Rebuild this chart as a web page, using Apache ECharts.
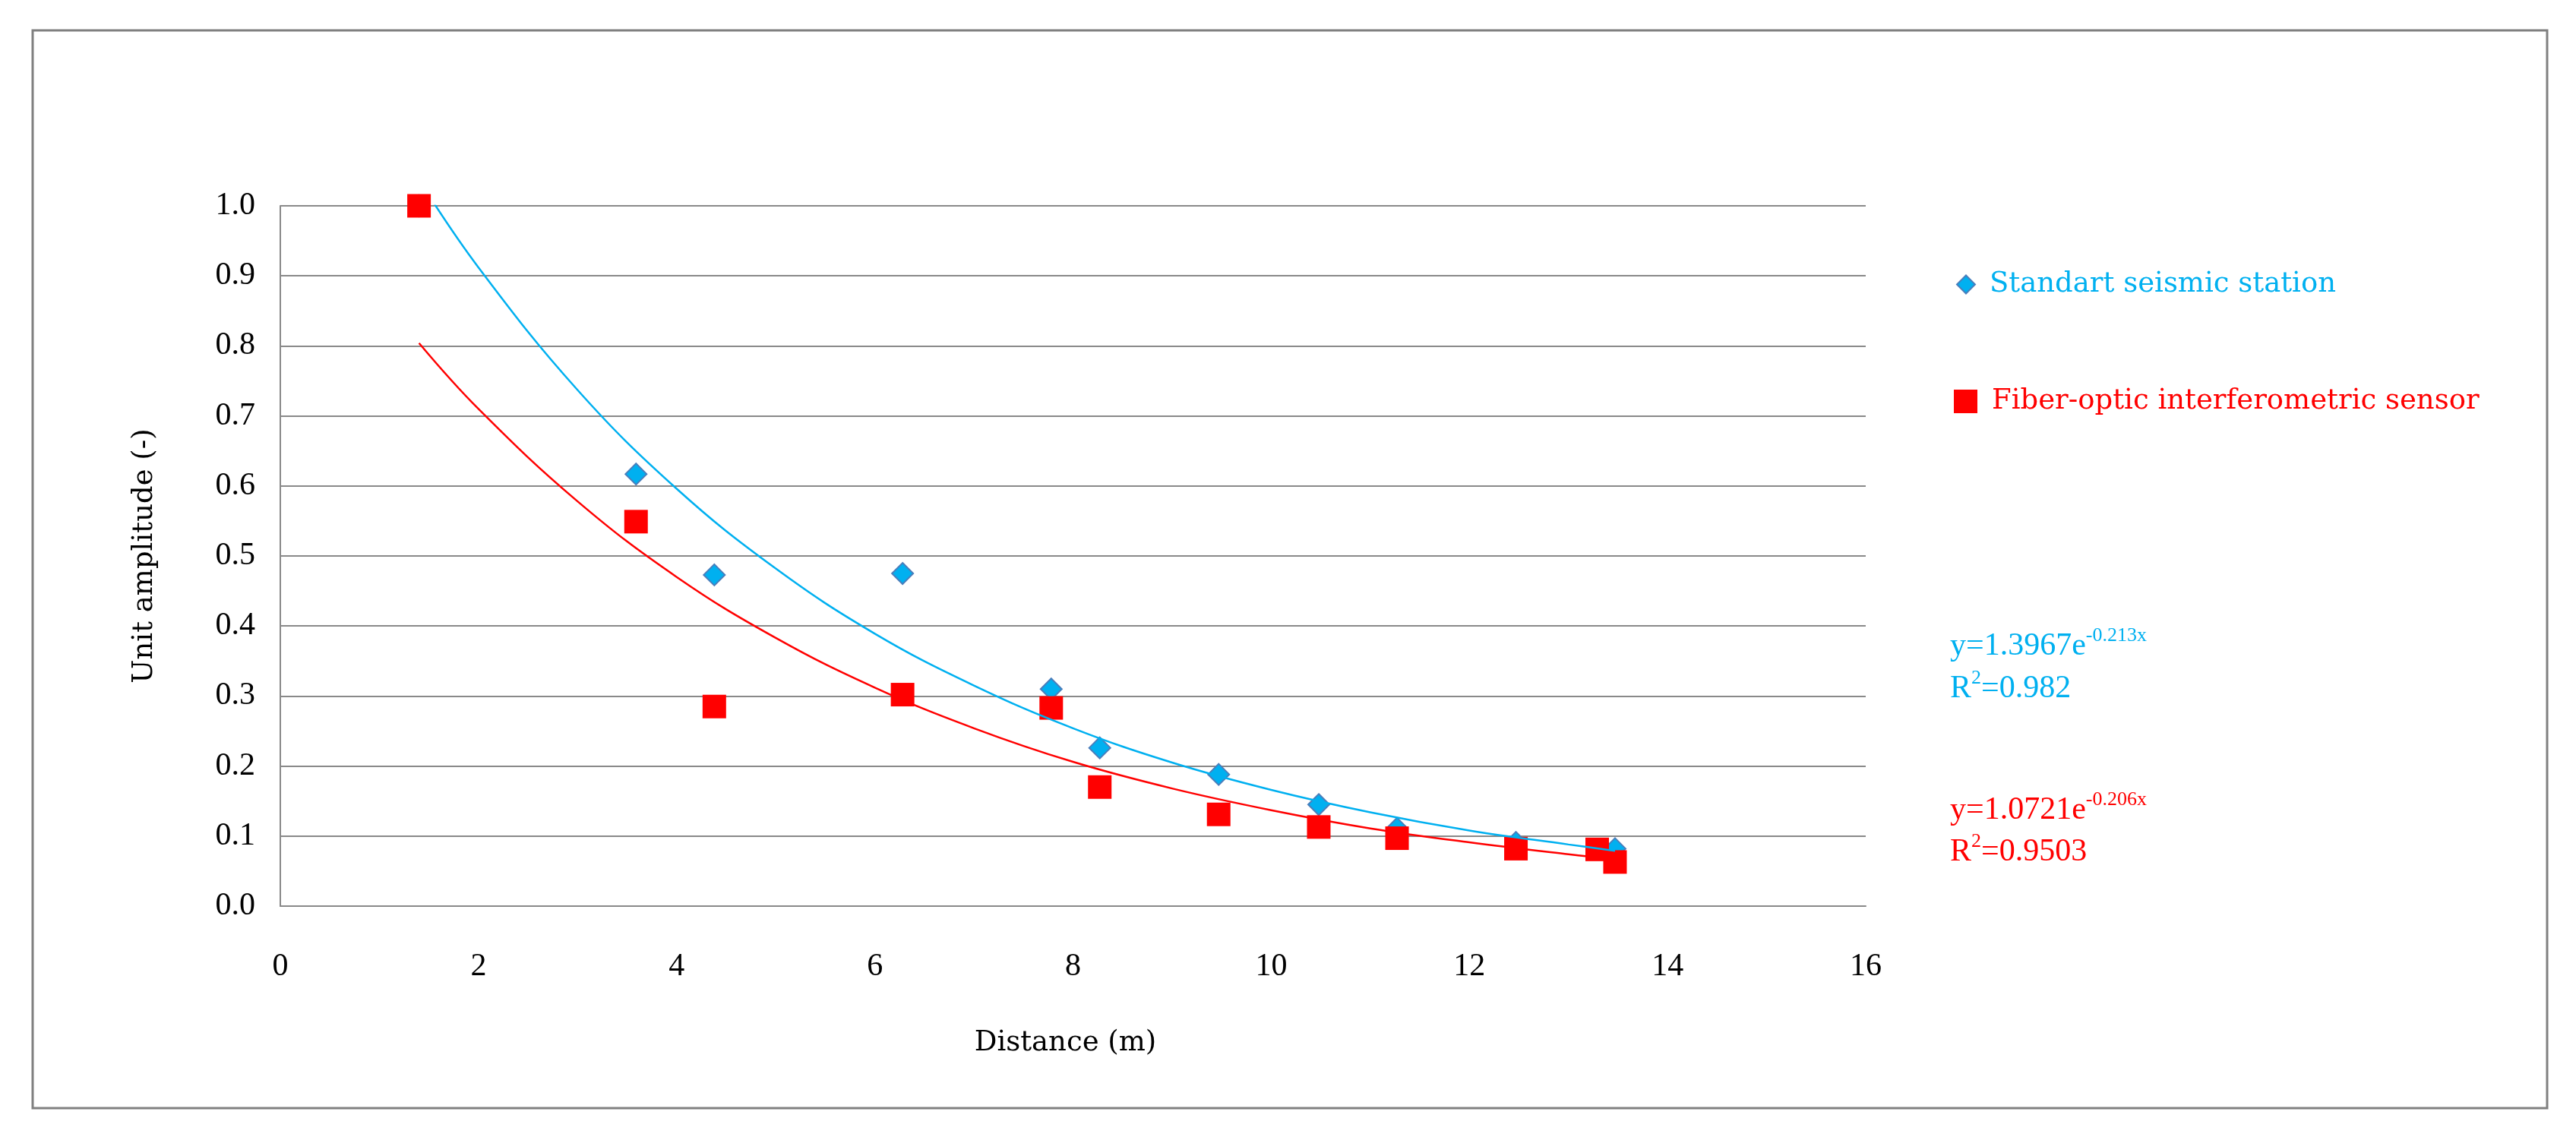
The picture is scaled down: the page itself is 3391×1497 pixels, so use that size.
<!DOCTYPE html>
<html>
<head>
<meta charset="utf-8">
<script src="https://cdn.jsdelivr.net/npm/echarts@6/dist/echarts.min.js"></script>
<style>
html,body{margin:0;padding:0;background:#ffffff;}
#chart{width:3391px;height:1497px;}
</style>
</head>
<body>
<div id="chart"></div>
<script>
// ---- data ----
const seismicX = [1.40, 3.59, 4.38, 6.28, 7.78, 8.27, 9.47, 10.48, 11.27, 12.47, 13.47];
const seismicY = [1.000, 0.617, 0.473, 0.475, 0.310, 0.226, 0.188, 0.145, 0.111, 0.091, 0.082];
const fiberX = [1.40, 3.59, 4.38, 6.28, 7.78, 8.27, 9.47, 10.48, 11.27, 12.47, 13.29, 13.47];
const fiberY = [1.000, 0.549, 0.285, 0.302, 0.283, 0.170, 0.131, 0.113, 0.097, 0.082, 0.081, 0.063];
// trend lines as drawn in the picture (sampled)
const trendX = [1.40, 2, 3, 4, 5, 6, 7, 8, 9, 10, 11, 12, 13, 13.47];
const seismicTrendY = [1.037, 0.912, 0.737, 0.596, 0.482, 0.389, 0.315, 0.254, 0.205, 0.166, 0.134, 0.108, 0.088, 0.079];
const fiberTrendY = [0.804, 0.710, 0.578, 0.470, 0.383, 0.312, 0.254, 0.206, 0.168, 0.137, 0.111, 0.091, 0.074, 0.067];
const xTicks = {min: 0, max: 16, interval: 2};
const yTicks = {min: 0, max: 1, interval: 0.1};
const seriesNames = ['Standart seismic station', 'Fiber-optic interferometric sensor'];
const equations = [
  {main: 'y=1.3967e', sup: '-0.213x', r2: '=0.982'},
  {main: 'y=1.0721e', sup: '-0.206x', r2: '=0.9503'}
];

const BLUE = '#00B0F0';
const RED = '#FF0000';
const GRID = '#898989';
const NUMFONT = 'Liberation Serif';
const TXTFONT = 'DejaVu Serif';

const zip = (xs, ys) => xs.map((x, i) => [x, ys[i]]);

const chart = echarts.init(document.getElementById('chart'), null, {renderer: 'canvas'});

function eqText(i, color, yMain, yR2) {
  const e = equations[i];
  const rich = {
    m: {fontFamily: NUMFONT, fontSize: 42, lineHeight: 48, fill: color, color: color, verticalAlign: 'bottom'},
    s: {fontFamily: NUMFONT, fontSize: 26, lineHeight: 26, fill: color, color: color, verticalAlign: 'top'}
  };
  return [
    {
      type: 'text', left: 2567, top: yMain - 24, silent: true,
      style: {text: '{m|' + e.main + '}{s|' + e.sup + '}', rich: rich}
    },
    {
      type: 'text', left: 2567, top: yR2 - 24, silent: true,
      style: {text: '{m|R}{s|2}{m|' + e.r2 + '}', rich: rich}
    }
  ];
}

const option = {
  animation: false,
  backgroundColor: '#ffffff',
  grid: {left: 369, right: 935, top: 271, bottom: 304, containLabel: false},
  xAxis: {
    type: 'value', min: xTicks.min, max: xTicks.max, interval: xTicks.interval,
    name: 'Distance (m)', nameLocation: 'middle', nameGap: 162,
    nameTextStyle: {fontFamily: TXTFONT, fontSize: 37, color: '#000', padding: [0, 20, 0, 0]},
    axisLine: {show: true, lineStyle: {color: GRID, width: 2}},
    axisTick: {show: false},
    splitLine: {show: false},
    axisLabel: {fontFamily: NUMFONT, fontSize: 42, color: '#000', margin: 59}
  },
  yAxis: {
    type: 'value', min: yTicks.min, max: yTicks.max, interval: yTicks.interval,
    name: 'Unit amplitude (-)', nameLocation: 'middle', nameGap: 160, nameRotate: 90,
    nameTextStyle: {fontFamily: TXTFONT, fontSize: 37, color: '#000'},
    axisLine: {show: true, lineStyle: {color: GRID, width: 2}},
    axisTick: {show: false},
    splitLine: {show: true, lineStyle: {color: GRID, width: 2}},
    axisLabel: {
      fontFamily: NUMFONT, fontSize: 42, color: '#000', margin: 33,
      padding: [0, 0, 14, 0],
      formatter: v => v.toFixed(1)
    }
  },
  legend: [
    {
      data: [{name: seriesNames[0], icon: 'diamond', textStyle: {color: BLUE}}],
      left: 2575, top: 356, padding: 0, itemWidth: 24, itemHeight: 24,
      selectedMode: false,
      textStyle: {fontFamily: TXTFONT, fontSize: 37, color: BLUE, padding: [0, 0, 0, 14]}
    },
    {
      data: [{name: seriesNames[1], icon: 'rect', textStyle: {color: RED}}],
      left: 2572, top: 510, padding: 0, itemWidth: 31, itemHeight: 31,
      selectedMode: false,
      textStyle: {fontFamily: TXTFONT, fontSize: 37, color: RED, padding: [0, 0, 0, 14]}
    }
  ],
  graphic: [
    {
      type: 'rect', silent: true, z: 0,
      shape: {x: 43, y: 40, width: 3310, height: 1419},
      style: {fill: 'none', stroke: '#808080', lineWidth: 3}
    }
  ].concat(eqText(0, BLUE, 848, 904)).concat(eqText(1, RED, 1064, 1119)),
  series: [
    {
      name: seriesNames[0], type: 'scatter', z: 2,
      symbol: 'diamond', symbolSize: 28,
      itemStyle: {color: BLUE, borderColor: '#4A7EBB', borderWidth: 2, opacity: 1},
      emphasis: {disabled: true},
      data: zip(seismicX, seismicY)
    },
    {
      name: seriesNames[1], type: 'scatter', z: 3,
      symbol: 'rect', symbolSize: 31,
      itemStyle: {color: RED, opacity: 1},
      emphasis: {disabled: true},
      data: zip(fiberX, fiberY)
    },
    {
      name: 'Seismic trend', type: 'line', z: 4, silent: true,
      showSymbol: false, smooth: 0.4, clip: true,
      lineStyle: {color: BLUE, width: 2.5},
      data: zip(trendX, seismicTrendY)
    },
    {
      name: 'Fiber trend', type: 'line', z: 4, silent: true,
      showSymbol: false, smooth: 0.4, clip: true,
      lineStyle: {color: RED, width: 2.5},
      data: zip(trendX, fiberTrendY)
    }
  ]
};
chart.setOption(option);
</script>
</body>
</html>
